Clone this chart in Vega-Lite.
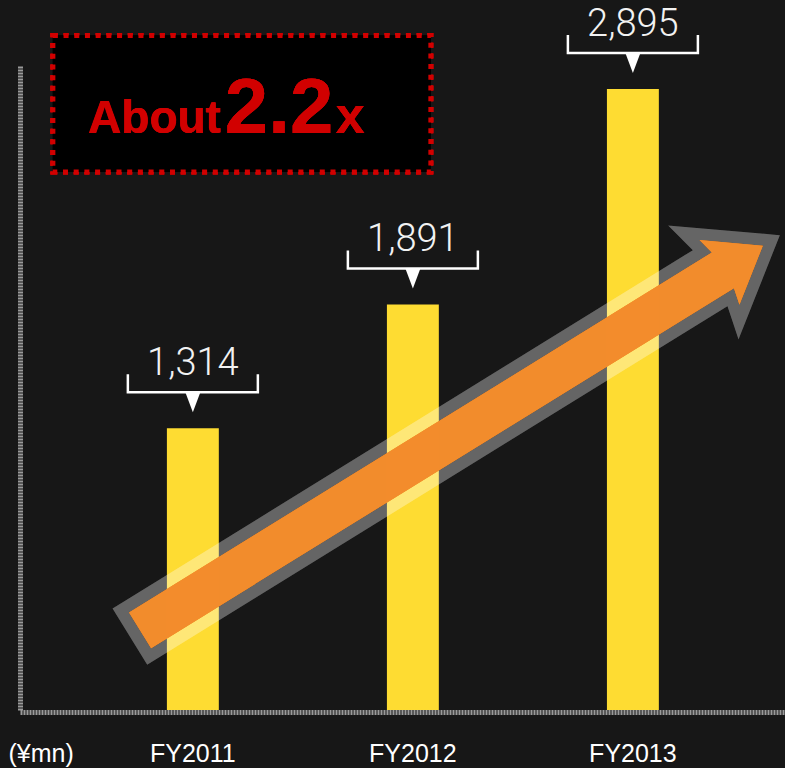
{
  "$schema": "https://vega.github.io/schema/vega-lite/v6.json",
  "width": 765,
  "height": 645,
  "autosize": {"type": "none"},
  "padding": {"left": 20, "top": 65, "right": 0, "bottom": 58},
  "background": "#171717",
  "config": {"view": {"stroke": null}},
  "data": {"values": [
    {"year": "FY2011", "value": 1314},
    {"year": "FY2012", "value": 1891},
    {"year": "FY2013", "value": 2895}
  ]},
  "layer": [
    {
      "mark": {"type": "bar", "color": "#FEDC32"},
      "encoding": {
        "x": {"field": "year", "type": "nominal",
          "scale": {"paddingInner": 0.764, "paddingOuter": 0.6205, "align": 0.538, "round": false},
          "axis": {"title": null, "labelAngle": 0, "labelFontSize": 25, "labelFont": "Liberation Sans", "labelColor": "#ffffff",
            "ticks": false, "tickSize": 0, "domainColor": "#9a9a9a", "domainWidth": 5, "domainDash": [2, 1],
            "labelPadding": 49, "labelBaseline": "alphabetic", "offset": 2}},
        "y": {"field": "value", "type": "quantitative",
          "scale": {"domain": [0, 3007], "nice": false},
          "axis": {"title": "(¥mn)", "titleAngle": 0, "titleX": -12, "titleY": 696, "titleAlign": "left", "titleBaseline": "alphabetic",
            "titleFont": "Liberation Sans", "titleFontSize": 25, "titleFontWeight": "normal", "titleColor": "#ffffff",
            "labels": false, "ticks": false, "tickSize": 0, "grid": false,
            "domainColor": "#9a9a9a", "domainWidth": 5, "domainDash": [2, 1]}}
      }
    },
    {
      "mark": {"type": "point", "filled": true, "fill": "#ffffff", "fillOpacity": 0.13, "strokeWidth": 0, "opacity": 1,
        "size": 640000, "angle": 328.3, "xOffset": 42,
        "shape": "M-0.955,-0.0825L0.75,-0.0825L0.73,-0.1675L0.955,0L0.73,0.1675L0.75,0.0825L-0.955,0.0825ZM-0.925,0.0525L0.7875,0.0525L0.7775,0.095L0.905,0L0.7775,-0.095L0.7875,-0.0525L-0.925,-0.0525Z"},
      "encoding": {
        "x": {"datum": "FY2012", "type": "nominal"},
        "y": {"datum": 1278, "type": "quantitative"}
      }
    },
    {
      "mark": {"type": "point", "filled": true, "fill": "#F28C2C", "fillOpacity": 0.88, "strokeWidth": 0, "opacity": 1,
        "size": 640000, "angle": 328.3, "xOffset": 42,
        "shape": "M-0.925,0.0525L0.7875,0.0525L0.7775,0.095L0.905,0L0.7775,-0.095L0.7875,-0.0525L-0.925,-0.0525Z"},
      "encoding": {
        "x": {"datum": "FY2012", "type": "nominal"},
        "y": {"datum": 1278, "type": "quantitative"}
      }
    },
    {
      "mark": {"type": "point", "filled": false, "color": "#ffffff", "strokeWidth": 2.5, "opacity": 1,
        "size": 16900, "yOffset": -36, "shape": "M-1,-0.277L-1,0L1,0L1,-0.277"},
      "encoding": {
        "x": {"field": "year", "type": "nominal"},
        "y": {"field": "value", "type": "quantitative"}
      }
    },
    {
      "mark": {"type": "point", "filled": true, "color": "#ffffff", "opacity": 1, "strokeWidth": 0,
        "size": 400, "yOffset": -26, "shape": "M-0.75,-1L0.75,-1L0,1Z"},
      "encoding": {
        "x": {"field": "year", "type": "nominal"},
        "y": {"field": "value", "type": "quantitative"}
      }
    },
    {
      "mark": {"type": "text", "dy": -53, "baseline": "alphabetic", "align": "center", "font": "Roboto", "fontWeight": 300, "fontSize": 38, "color": "#f2f2f2"},
      "encoding": {
        "x": {"field": "year", "type": "nominal"},
        "y": {"field": "value", "type": "quantitative"},
        "text": {"field": "value", "type": "quantitative", "format": ","}
      }
    },
    {
      "mark": {"type": "bar", "width": 378, "xOffset": 49, "fill": "#000000", "stroke": "#d10000", "strokeWidth": 5, "strokeDash": [5, 5.7]},
      "encoding": {
        "x": {"datum": "FY2011", "type": "nominal"},
        "y": {"datum": 3144.5, "type": "quantitative"},
        "y2": {"datum": 2508}
      }
    },
    {
      "mark": {"type": "text", "text": "About", "align": "left", "baseline": "alphabetic", "xOffset": -105, "font": "Liberation Sans", "fontWeight": "bold", "fontSize": 46, "color": "#d10000"},
      "encoding": {
        "x": {"datum": "FY2011", "type": "nominal"},
        "y": {"datum": 2690, "type": "quantitative"}
      }
    },
    {
      "mark": {"type": "text", "text": "2.2", "align": "left", "baseline": "alphabetic", "xOffset": 32, "font": "Liberation Sans", "fontWeight": "bold", "fontSize": 78, "color": "#d10000"},
      "encoding": {
        "x": {"datum": "FY2011", "type": "nominal"},
        "y": {"datum": 2690, "type": "quantitative"}
      }
    },
    {
      "mark": {"type": "text", "text": "x", "align": "left", "baseline": "alphabetic", "xOffset": 143, "font": "Liberation Sans", "fontWeight": "bold", "fontSize": 52, "color": "#d10000"},
      "encoding": {
        "x": {"datum": "FY2011", "type": "nominal"},
        "y": {"datum": 2690, "type": "quantitative"}
      }
    }
  ]
}
